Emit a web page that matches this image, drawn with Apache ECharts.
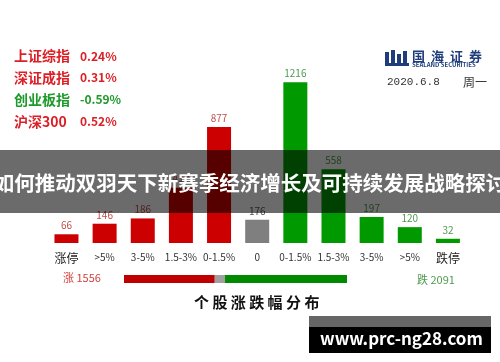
<!DOCTYPE html>
<html><head><meta charset="utf-8">
<script src="https://cdn.jsdelivr.net/npm/echarts@6/dist/echarts.min.js"></script>
<style>html,body{margin:0;padding:0;background:#fff}#c{width:500px;height:362px}</style>
</head><body><div id="c"></div>
<script>
const categories = ['涨停','>5%','3-5%','1.5-3%','0-1.5%','0','0-1.5%','1.5-3%','3-5%','>5%','跌停'];
const counts = [66,146,186,419,877,176,1216,558,197,120,32];
const direction = ['up','up','up','up','up','flat','down','down','down','down','down'];
const indexNames = ['上证综指','深证成指','创业板指','沪深300'];
const indexChanges = ['0.24%','0.31%','-0.59%','0.52%'];
const totals = {up:1556, flat:176, down:2091};
const dateText = '2020.6.8';
const weekday = '周一';
const headline = '如何推动双羽天下新赛季经济增长及可持续发展战略探讨';
const chartTitle = '个股涨跌幅分布';
const watermark = 'www.prc-ng28.com';
const brandName = '国海证券';
const brandEn = 'SEALAND SECURITIES';

const FONT = '"Noto Sans CJK SC", sans-serif';
const barColor = {up:'#cc0000', flat:'#7f7f7f', down:'#009a00'};
const labColor = {up:'#c0504d', flat:'#595959', down:'#4f9a4f'};
const RED = '#dc1f26', GREEN = '#1d9a2a';

const chart = echarts.init(document.getElementById('c'));
const graphics = [];
indexNames.forEach((n,i)=>{
  const y = 57 + i*21.9;
  const neg = indexChanges[i].startsWith('-');
  const col = neg ? GREEN : RED;
  graphics.push({type:'text', left:14, top:y-8, z:5, style:{text:n, fill:col, font:'bold 14px '+FONT}});
  graphics.push({type:'text', left:80, top:y-7, z:5, style:{text:indexChanges[i], fill:col, font:'bold 12px '+FONT}});
});
// logo
graphics.push({type:'group', left:385, top:50, z:5, children:[
  {type:'rect', shape:{x:0,y:2,width:4,height:13}, style:{fill:'#1f3d7a'}},
  {type:'rect', shape:{x:6,y:0,width:4,height:15}, style:{fill:'#1f3d7a'}},
  {type:'rect', shape:{x:12,y:4,width:4,height:11}, style:{fill:'#1f3d7a'}},
  {type:'rect', shape:{x:18,y:1,width:4,height:14}, style:{fill:'#1f3d7a'}},
  {type:'rect', shape:{x:0,y:13,width:24,height:3}, style:{fill:'#1f3d7a'}}
]});
brandName.split('').forEach((ch,i)=>{
  graphics.push({type:'text', left:412 + i*19, top:50, z:5, style:{text:ch, fill:'#1f3d7a', font:'bold 13px '+FONT}});
});
graphics.push({type:'text', left:412, top:62, z:5, style:{text:brandEn, fill:'#1f3d7a', font:'bold 6px '+FONT}});
graphics.push({type:'text', left:387, top:77, z:5, style:{text:dateText, fill:'#333', font:'11px "Liberation Mono", monospace'}});
graphics.push({type:'text', left:463, top:76, z:5, style:{text:weekday, fill:'#333', font:'12px '+FONT}});
// totals text
graphics.push({type:'text', left:63, top:272, z:5, style:{text:'涨 '+totals.up, fill:'#d0403d', font:'11px '+FONT}});
graphics.push({type:'text', left:417, top:274, z:5, style:{text:'跌 '+totals.down, fill:'#4f9a4f', font:'11px '+FONT}});
// chart title
chartTitle.split('').forEach((ch,i)=>{
  graphics.push({type:'text', left:194 + i*18.4, top:295, z:5, style:{text:ch, fill:'#111', font:'bold 15px '+FONT}});
});
// overlay band
graphics.push({type:'rect', left:0, top:150, z:100, shape:{width:500,height:63}, style:{fill:'rgba(0,0,0,0.58)'}});
graphics.push({type:'text', left:'center', top:173, z:101, style:{text:headline, fill:'#fff', font:'bold 20.5px '+FONT}});
// watermark
graphics.push({type:'rect', left:309, top:316, z:100, shape:{width:182,height:11}, style:{fill:'#666'}});
graphics.push({type:'rect', left:309, top:327, z:100, shape:{width:182,height:26}, style:{fill:'#000'}});
graphics.push({type:'text', left:320, top:330, z:101, style:{text:watermark, fill:'#fff', font:'bold 17px '+FONT}});

const totalAll = totals.up + totals.flat + totals.down;

chart.setOption({
  animation:false,
  grid:[
    {left:47.4, right:33, top:58, bottom:119},
    {left:124, width:223, top:275, height:8}
  ],
  xAxis:[
    {type:'category', gridIndex:0, data:categories, axisLine:{show:false}, axisTick:{show:false},
     axisLabel:{interval:0, margin:9, color:'#333', fontFamily:FONT, fontSize:10,
       formatter:(v,i)=> (i===0||i===10) ? '{big|'+v+'}' : v,
       rich:{big:{fontSize:12, color:'#222', fontFamily:FONT}}}},
    {type:'value', gridIndex:1, min:0, max:totalAll, show:false}
  ],
  yAxis:[
    {type:'value', gridIndex:0, min:0, max:1400, show:false},
    {type:'category', gridIndex:1, data:['t'], show:false}
  ],
  series:[
    {type:'bar', xAxisIndex:0, yAxisIndex:0, barWidth:24,
     data:counts.map((v,i)=>({value:v, itemStyle:{color:barColor[direction[i]]},
       label:{color:labColor[direction[i]]}})),
     label:{show:true, position:'top', distance:4, fontSize:10, fontFamily:FONT}},
    {type:'bar', xAxisIndex:1, yAxisIndex:1, stack:'s', barWidth:8, data:[totals.up], itemStyle:{color:'#c00000'}},
    {type:'bar', xAxisIndex:1, yAxisIndex:1, stack:'s', barWidth:8, data:[totals.flat], itemStyle:{color:'#a0a0a0'}},
    {type:'bar', xAxisIndex:1, yAxisIndex:1, stack:'s', barWidth:8, data:[totals.down], itemStyle:{color:'#008a00'}}
  ],
  graphic:graphics
});
</script></body></html>
